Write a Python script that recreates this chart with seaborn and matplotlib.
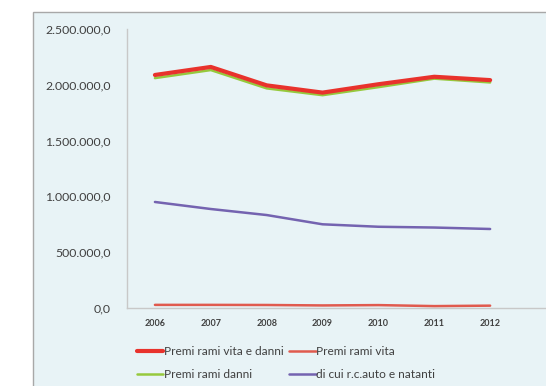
import numpy as np
import pandas as pd
import matplotlib
matplotlib.use("Agg")
import matplotlib.pyplot as plt
from matplotlib.ticker import FuncFormatter
from matplotlib.patches import Rectangle
import seaborn as sns

sns.set_style("white")
plt.rcParams['font.family'] = ['Lato', 'DejaVu Sans']

# dati
anni = ['2006', '2007', '2008', '2009', '2010', '2011', '2012']
vita_e_danni = [2088000, 2160000, 1995000, 1930000, 2005000, 2072000, 2042000]
rami_vita = [28000, 28000, 27000, 23000, 26000, 17000, 21000]
rami_danni = [2060000, 2132000, 1968000, 1907000, 1979000, 2055000, 2021000]
rc_auto = [950000, 887000, 833000, 750000, 728000, 721000, 708000]

serie = ['Premi rami vita e danni', 'Premi rami vita', 'Premi rami danni', 'di cui r.c.auto e natanti']
colori = ['#e8322c', '#e05a4e', '#96c93d', '#7463b0']
spessori = [3.0, 1.8, 1.8, 1.8]
ordine_z = [5, 4, 3, 3]

df = pd.DataFrame({
    'anno': list(range(len(anni))) * 4,
    'valore': vita_e_danni + rami_vita + rami_danni + rc_auto,
    'serie': np.repeat(serie, len(anni)),
})

fig = plt.figure(figsize=(5.46, 3.86), dpi=100)
bg = '#e8f3f6'
fondo = Rectangle((33 / 546, -0.01), 1.0, 1 - 12 / 386 + 0.01, transform=fig.transFigure,
                  facecolor=bg, edgecolor='#a8a8a8', lw=1.0, zorder=-10)
fig.add_artist(fondo)

ax = fig.add_axes([127 / 546, 1 - 308 / 386, 1 - 127 / 546, (308 - 29) / 386])
ax.set_zorder(1)
ax.set_facecolor('none')

for s, c, w, z in zip(serie, colori, spessori, ordine_z):
    sub = df[df['serie'] == s]
    sns.lineplot(data=sub, x='anno', y='valore', ax=ax, color=c, lw=w, label=s, zorder=z)

ax.set_xlim(-0.5, 7.0)
ax.set_ylim(0, 2500000)
ax.set_yticks(np.arange(0, 2500001, 500000))
ax.yaxis.set_major_formatter(FuncFormatter(
    lambda v, p: f"{v:,.1f}".replace(',', 'X').replace('.', ',').replace('X', '.')))
ax.set_xticks(range(len(anni)))
ax.set_xticklabels(anni)
ax.set_xlabel('')
ax.set_ylabel('')

ax.tick_params(axis='y', length=0, pad=11.5, labelsize=8.8, labelcolor='#404040')
ax.tick_params(axis='x', length=0, pad=8, labelsize=6.5, labelcolor='#404040')
for t in ax.get_xticklabels():
    t.set_fontweight('bold')

for sp in ['top', 'right']:
    ax.spines[sp].set_visible(False)
for sp in ['left', 'bottom']:
    ax.spines[sp].set_color('#c8c8c8')
    ax.spines[sp].set_linewidth(1.0)

h, l = ax.get_legend_handles_labels()
idx = [0, 2, 1, 3]
leg = ax.legend([h[i] for i in idx], [l[i] for i in idx], ncol=2, frameon=False,
                loc='upper left', bbox_to_anchor=(132 / 546, 1 - 341 / 386),
                bbox_transform=fig.transFigure, fontsize=8.6, handlelength=2.2,
                handletextpad=0.05, columnspacing=0.5, labelspacing=1.0,
                borderaxespad=0)
for t in leg.get_texts():
    t.set_color('#404040')

fig.savefig('out.png', dpi=100)
